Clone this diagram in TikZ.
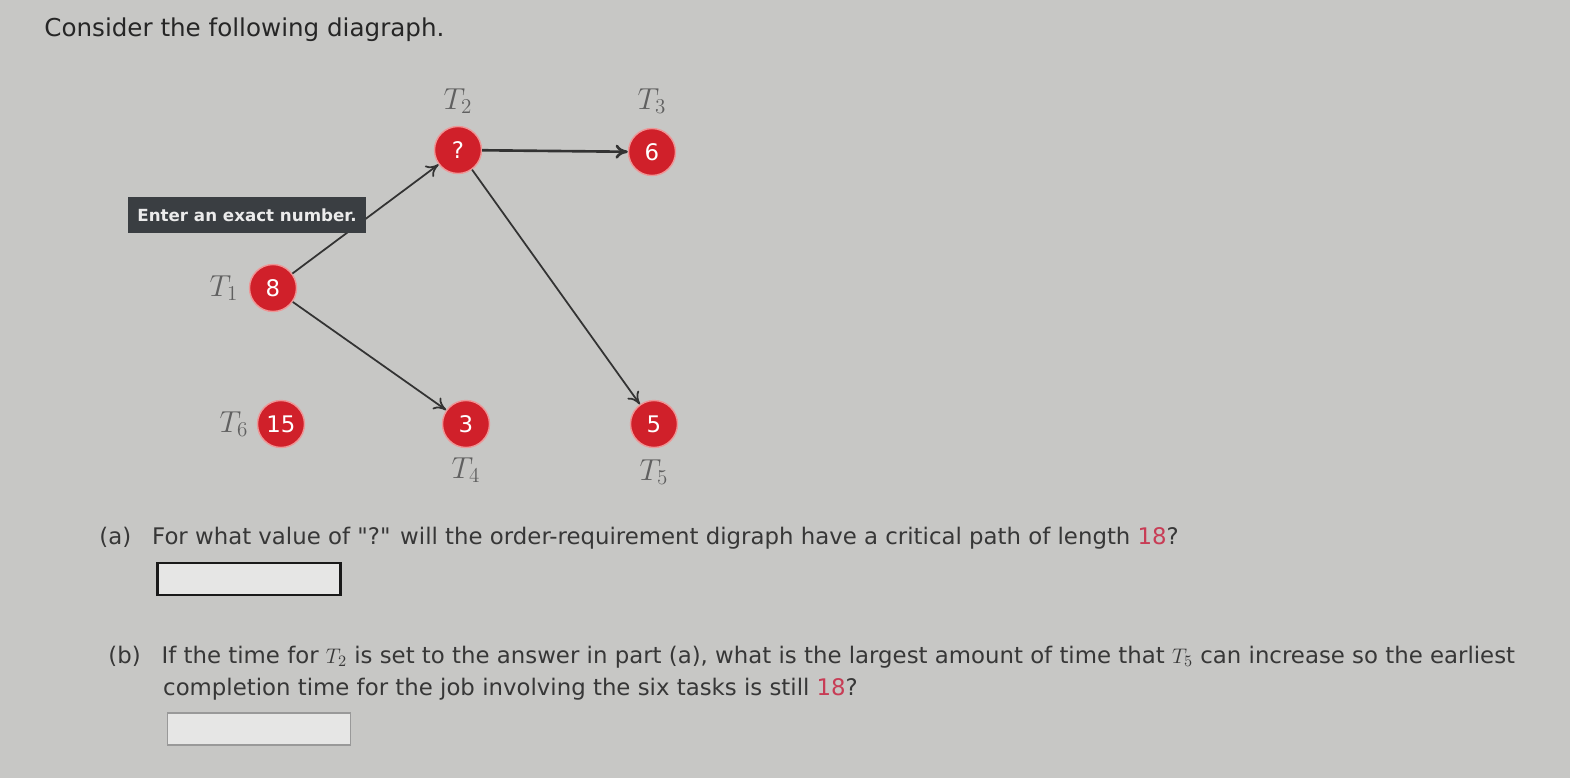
\documentclass[tikz,border=0pt]{standalone}
\usepackage{fontspec}
\setmainfont{DejaVu Sans}
\usepackage{amsmath}
\usetikzlibrary{arrows, arrows.meta, automata, positioning}
\definecolor{paper}{RGB}{199,199,197}
\definecolor{taskred}{RGB}{208,32,42}
\definecolor{taskrim}{RGB}{238,150,150}
\definecolor{tipgray}{RGB}{58,62,66}
\definecolor{inkgray}{RGB}{55,55,55}
\definecolor{markred}{RGB}{200,60,85}
\tikzset{
  task/.style={circle, fill=taskred, draw=taskrim, line width=0.8pt,
    minimum size=0.94cm, inner sep=0pt, text=white, font=\fontsize{13}{13}\selectfont},
  tname/.style={text=gray!75!black, font=\fontsize{17}{17}\selectfont, inner sep=0pt},
  answer/.style={fill=white!55!paper, minimum width=3.66cm, minimum height=0.64cm},
  question/.style={anchor=west, text=inkgray, font=\fontsize{13}{18}\selectfont, align=left}
}
\begin{document}
\begin{tikzpicture}[
            x=0.02cm, y=-0.02cm,
            ->,
            >={To[length=7pt,width=8pt]},
            semithick,
            node distance=0.98cm]
            \fill [paper] (0,0) rectangle (1570,778);
            \useasboundingbox (0,0) rectangle (1570,778);

            \node [anchor=west, text=black!85, font=\fontsize{14}{16}\selectfont] (head) at (38,30) {Consider the following diagraph.};

            \node [task] (t2) at (458,150) {?};
            \node [task] (t3) at (652,152) {6};
            \node [task] (t1) at (273,288) {8};
            \node [task] (t6) at (281,424) {15};
            \node [task] (t4) at (466,424) {3};
            \node [task] (t5) at (654,424) {5};

            \node [tname] (n2) [above of = t2] {$T_2$};
            \node [tname] (n3) [above of = t3, node distance=1.02cm] {$T_3$};
            \node [tname] (n1) [left of = t1] {$T_1$};
            \node [tname] (n6) [left of = t6, node distance=0.94cm] {$T_6$};
            \node [tname] (n4) [below of = t4, node distance=0.92cm] {$T_4$};
            \node [tname] (n5) [below of = t5, node distance=0.96cm] {$T_5$};

            \path [draw=black!80, line width=1pt] (t1) edge (t2)
                      edge (t4)
                  (t2) edge [line width=1.5pt] (t3)
                      edge (t5);

            \node [fill=tipgray, text=white!92!black, font=\bfseries\fontsize{9.5}{10}\selectfont,
                   minimum width=4.76cm, minimum height=0.72cm, inner sep=0pt] (tip) at (247,215) {Enter an exact number.};

            \node [question] (qa) at (93,538)
                {(a)\hspace{0.6em} For what value of \textquotedbl?\textquotedbl{} will the order-requirement digraph have a critical path of length \textcolor{markred}{18}?};
            \node [answer, draw=black!90, line width=1.6pt] (boxa) at (249,579) {};

            \node [question] (qb) at (102,673)
                {(b)\hspace{0.6em} If the time for $T_2$ is set to the answer in part (a), what is the largest amount of time that $T_5$ can increase so the earliest\\
                \hspace{2.4em}completion time for the job involving the six tasks is still \textcolor{markred}{18}?};
            \node [answer, draw=gray!80, line width=0.6pt] (boxb) at (259,729) {};
        \end{tikzpicture}
\end{document}
